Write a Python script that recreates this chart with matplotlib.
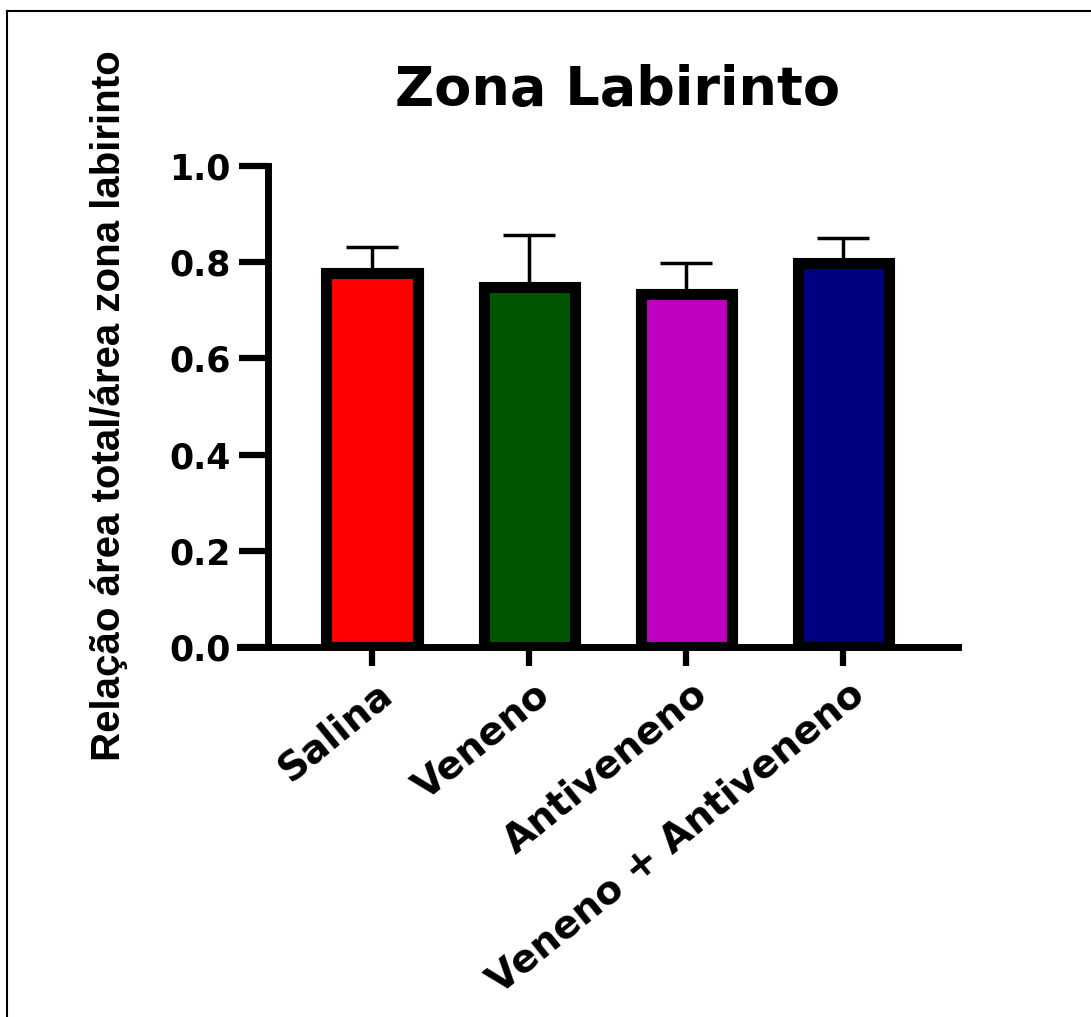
import matplotlib
matplotlib.use("Agg")
import matplotlib.pyplot as plt
import matplotlib.transforms as mtransforms
from matplotlib import font_manager
from matplotlib.lines import Line2D

# ------- data -------
groups = ["Salina", "Veneno", "Antiveneno", "Veneno + Antiveneno"]
means = [0.777, 0.748, 0.734, 0.798]
sems = [0.055, 0.109, 0.064, 0.052]
colors = ["#FF0000", "#005500", "#C000C0", "#000080"]
yticks = [0.0, 0.2, 0.4, 0.6, 0.8, 1.0]

title = "Zona Labirinto"
ylabel = "Relação área total/área zona labirinto"

installed = {f.name for f in font_manager.fontManager.ttflist}
if "Liberation Sans Narrow" in installed:
    ylab_font, ylab_size = "Liberation Sans Narrow", 35
else:
    ylab_font, ylab_size = "Liberation Sans", 29

plt.rcParams["font.family"] = ["DejaVu Sans"]
plt.rcParams["font.weight"] = "bold"

fig = plt.figure(figsize=(10.91, 10.17), dpi=100)
W, H = 1091, 1017
ax = fig.add_axes([240 / W, 1 - 647 / H, 718 / W, 481 / H])

x = list(range(len(groups)))
ax.errorbar(x, means, yerr=[[0] * len(sems), sems], fmt="none", ecolor="black",
            elinewidth=2.5, capsize=19, capthick=2.5, zorder=2)
ax.bar(x, means, width=0.58, color=colors, edgecolor="black", linewidth=8, zorder=3)

ax.set_xlim(-0.84, 3.73)
ax.set_ylim(0, 1.0)

for s in ["top", "right"]:
    ax.spines[s].set_visible(False)
ax.spines["left"].set_position(("data", -0.66))
ax.spines["left"].set_linewidth(5)
ax.spines["bottom"].set_linewidth(5)
ax.spines["left"].set_zorder(4)
ax.spines["bottom"].set_zorder(4)

ax.set_yticks(yticks)
ax.set_yticklabels([f"{v:.1f}" for v in yticks], fontsize=25, fontweight="bold")
ax.tick_params(axis="y", length=21, width=4.5, pad=6)

ax.set_xticks(x)
ax.set_xticklabels(groups, fontsize=28, fontweight="bold", rotation=39,
                   ha="right", va="top", rotation_mode="anchor")
ax.tick_params(axis="x", length=14, width=4.5, pad=6)
shift = mtransforms.ScaledTranslation(4 / 100, 0, fig.dpi_scale_trans)
for lab in ax.get_xticklabels():
    lab.set_transform(lab.get_transform() + shift)

ax.set_ylabel(ylabel, family=[ylab_font, "DejaVu Sans"], fontsize=ylab_size,
              fontweight="bold", va="center", ha="center")
ax.yaxis.set_label_coords(109 / W, 1 - 406 / H, transform=fig.transFigure)

fig.text(618 / W, 1 - 105 / H, title, fontsize=39, fontweight="bold",
         ha="center", va="baseline")

# partial frame (top and left edges)
fig.add_artist(Line2D([7 / W, 1], [1 - 11 / H, 1 - 11 / H], color="black", lw=1.5,
                      transform=fig.transFigure))
fig.add_artist(Line2D([7 / W, 7 / W], [0, 1 - 11 / H], color="black", lw=1.5,
                      transform=fig.transFigure))

fig.savefig("out.png", dpi=100)
